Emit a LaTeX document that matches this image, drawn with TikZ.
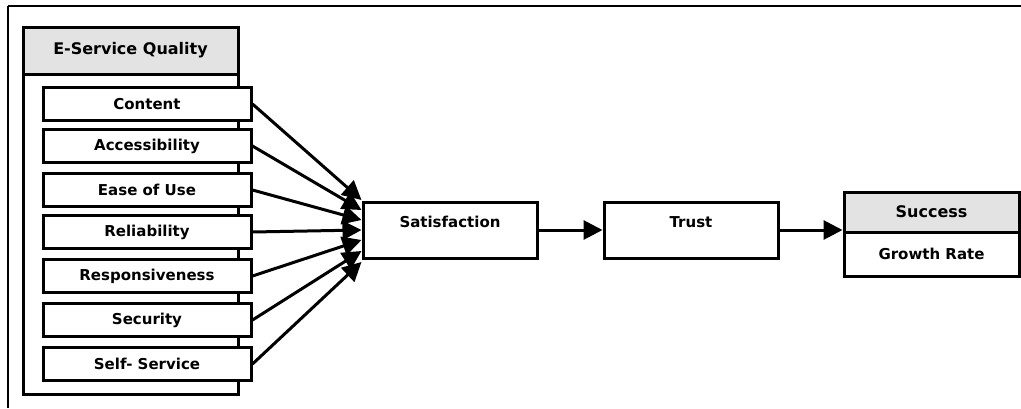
\documentclass[tikz,border=0pt]{standalone}
\usepackage{fontspec}
\setmainfont{DejaVu Sans}
\usetikzlibrary{arrows.meta}
\definecolor{hdrgray}{RGB}{227,227,227}
\begin{document}
\begin{tikzpicture}[x=1pt,y=-1pt,
  box/.style={draw=black, line width=3pt, fill=white, rectangle, inner sep=0pt,
    font=\fontsize{15pt}{18pt}\selectfont\bfseries},
  hdr/.style={box, fill=hdrgray, font=\fontsize{16pt}{19pt}\selectfont\bfseries},
  item/.style={box, minimum width=208pt, minimum height=33pt},
  frameline/.style={draw=black},
  arr/.style={draw=black, line width=3pt, -{Triangle[length=19pt,width=19pt]}}
]
\useasboundingbox (0,0) rectangle (1021,408);
% outer frame (top and left)
\coordinate (f0) at (8,6);
\coordinate (f1) at (1021,6);
\coordinate (f2) at (8,408);
\draw[frameline, line width=2pt] (f0) -- (f1);
\draw[frameline, line width=1.5pt] (f0) -- (f2);

% E-Service Quality group
\node[box, minimum width=215pt, minimum height=367pt] (esq) at (130.5,210.5) {};
\node[hdr, minimum width=215pt, minimum height=47pt] (esqh) at (130.5,50.5) {E-Service Quality};

\node[item] (c1) at (147,104) {Content};
\node[item] (c2) at (147,146) {Accessibility};
\node[item] (c3) at (147,190) {Ease of Use};
\node[item] (c4) at (147,232) {Reliability};
\node[item] (c5) at (147,276) {Responsiveness};
\node[item] (c6) at (147,320) {Security};
\node[item] (c7) at (147,364) {Self- Service};

% Satisfaction and Trust
\node[box, minimum width=174pt, minimum height=56pt,
  label={[yshift=8pt, font=\fontsize{15pt}{18pt}\selectfont\bfseries]center:Satisfaction}] (sat) at (450,230) {};
\node[box, minimum width=174pt, minimum height=56pt,
  label={[yshift=8pt, font=\fontsize{15pt}{18pt}\selectfont\bfseries]center:Trust}] (trust) at (691,230) {};

% Success
\node[hdr, minimum width=175pt, minimum height=40pt] (succ) at (931.5,212) {Success};
\node[box, minimum width=175pt, minimum height=44pt] (growth) at (931.5,254) {Growth Rate};

% converging arrows
\draw[arr] (c1.east) -- ([yshift=30pt]sat.west);
\draw[arr] (c2.east) -- ([yshift=20pt]sat.west);
\draw[arr] (c3.east) -- ([yshift=10pt]sat.west);
\draw[arr] (c4.east) -- ([yshift=0pt]sat.west);
\draw[arr] (c5.east) -- ([yshift=-10pt]sat.west);
\draw[arr] (c6.east) -- ([yshift=-21pt]sat.west);
\draw[arr] (c7.east) -- ([yshift=-32pt]sat.west);

\draw[arr] (sat.east) -- (trust.west);
\draw[arr] (trust.east) -- (trust.east -| succ.west);
\end{tikzpicture}
\end{document}
